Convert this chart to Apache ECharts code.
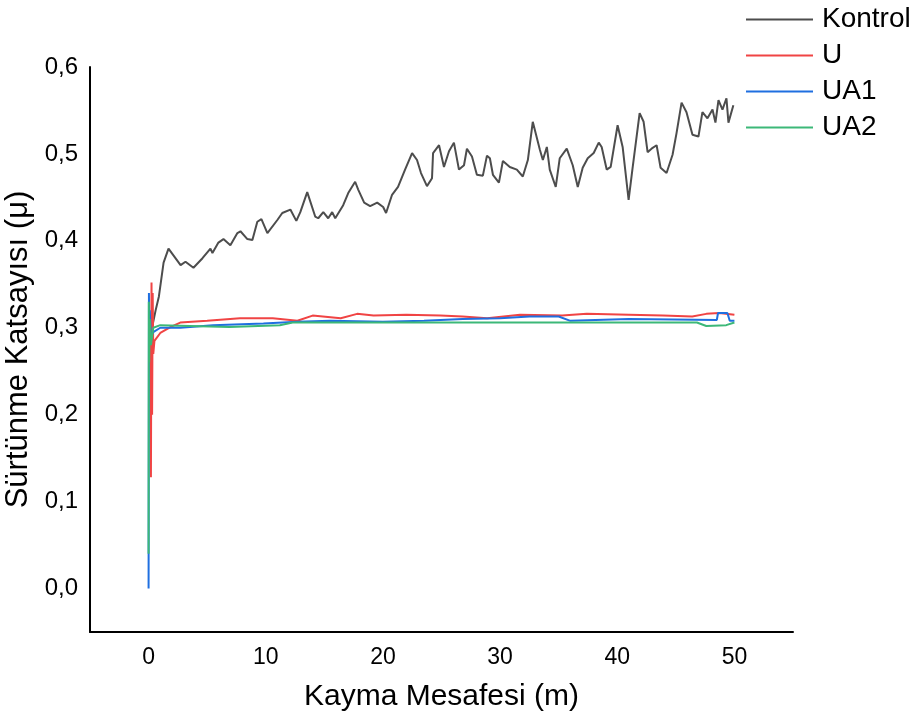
<!DOCTYPE html>
<html>
<head>
<meta charset="utf-8">
<script src="https://cdn.jsdelivr.net/npm/echarts@6/dist/echarts.min.js"></script>
<style>html,body{margin:0;padding:0;background:#fff}#c{width:917px;height:720px}</style>
</head>
<body>
<div id="c"></div>
<script>
const seriesNames = ['Kontrol', 'U', 'UA1', 'UA2'];
const xTickLabels = ['0', '10', '20', '30', '40', '50'];
const yTickLabels = ['0,0', '0,1', '0,2', '0,3', '0,4', '0,5', '0,6'];

const kontrolX = [0.31, 0.6, 0.88, 1.28, 1.70, 2.73, 3.15, 3.83, 4.60, 5.28, 5.45, 5.96, 6.39, 6.98, 7.58, 7.84, 8.43, 8.86, 9.28, 9.63, 10.14, 10.99, 11.41, 12.10, 12.61, 12.95, 13.54, 14.22, 14.48, 14.91, 15.33, 15.67, 15.93, 16.61, 17.04, 17.63, 17.89, 18.40, 18.91, 19.51, 20.02, 20.27, 20.78, 21.29, 21.89, 22.49, 22.91, 23.25, 23.76, 24.19, 24.28, 24.79, 25.21, 25.64, 26.06, 26.49, 26.92, 27.17, 27.60, 28.02, 28.53, 28.88, 29.13, 29.39, 29.90, 30.24, 30.83, 31.43, 31.94, 32.37, 32.79, 33.39, 33.65, 33.99, 34.24, 34.75, 35.09, 35.69, 36.20, 36.63, 37.05, 37.48, 37.99, 38.42, 38.67, 39.10, 39.44, 40.03, 40.46, 40.97, 41.31, 41.91, 42.25, 42.59, 43.02, 43.36, 43.70, 44.21, 44.72, 45.06, 45.49, 45.91, 46.42, 46.93, 47.27, 47.70, 48.13, 48.38, 48.64, 48.98, 49.32, 49.49, 49.91];
const kontrolY = [0.301, 0.320, 0.336, 0.375, 0.391, 0.372, 0.376, 0.369, 0.380, 0.391, 0.386, 0.398, 0.402, 0.395, 0.409, 0.411, 0.402, 0.401, 0.422, 0.425, 0.409, 0.424, 0.432, 0.436, 0.423, 0.433, 0.456, 0.428, 0.426, 0.433, 0.426, 0.433, 0.426, 0.441, 0.455, 0.468, 0.459, 0.444, 0.440, 0.444, 0.439, 0.432, 0.453, 0.462, 0.482, 0.501, 0.493, 0.478, 0.463, 0.472, 0.501, 0.510, 0.485, 0.503, 0.513, 0.482, 0.487, 0.506, 0.497, 0.476, 0.475, 0.498, 0.495, 0.476, 0.467, 0.492, 0.485, 0.482, 0.474, 0.493, 0.537, 0.505, 0.493, 0.508, 0.482, 0.462, 0.495, 0.506, 0.487, 0.462, 0.484, 0.495, 0.501, 0.513, 0.508, 0.482, 0.485, 0.533, 0.508, 0.447, 0.484, 0.547, 0.537, 0.502, 0.507, 0.510, 0.484, 0.478, 0.499, 0.524, 0.559, 0.548, 0.522, 0.520, 0.548, 0.541, 0.551, 0.536, 0.562, 0.551, 0.564, 0.536, 0.556];

const uX = [0.15, 0.20, 0.25, 0.30, 0.35, 0.40, 0.50, 1.0, 1.9, 2.7, 5.0, 7.8, 10.6, 12.7, 14.0, 16.4, 17.8, 19.2, 22.0, 24.9, 26.8, 28.9, 31.7, 35.3, 37.4, 41.0, 43.9, 46.4, 47.6, 48.7, 50.0];
const uY = [0.300, 0.128, 0.352, 0.200, 0.340, 0.270, 0.285, 0.294, 0.301, 0.306, 0.308, 0.311, 0.311, 0.308, 0.314, 0.311, 0.316, 0.314, 0.315, 0.314, 0.313, 0.311, 0.315, 0.314, 0.316, 0.315, 0.314, 0.313, 0.316, 0.317, 0.315];

const ua1X = [0.0, 0.03, 0.06, 0.10, 0.20, 0.40, 1.0, 2.7, 5.5, 9.8, 12.7, 15.5, 20.0, 23.5, 26.8, 30.0, 32.5, 35.0, 36.0, 41.0, 48.5, 48.6, 49.4, 49.6, 50.0];
const ua1Y = [0.000, 0.340, 0.300, 0.320, 0.290, 0.295, 0.300, 0.300, 0.303, 0.305, 0.307, 0.308, 0.307, 0.308, 0.310, 0.311, 0.313, 0.313, 0.308, 0.310, 0.309, 0.317, 0.317, 0.308, 0.308];

const ua2X = [0.0, 0.02, 0.05, 0.10, 0.20, 0.40, 1.0, 6.9, 11.2, 12.3, 24.9, 30.0, 36.0, 46.8, 47.6, 49.3, 50.0];
const ua2Y = [0.040, 0.330, 0.260, 0.310, 0.280, 0.300, 0.303, 0.301, 0.303, 0.306, 0.306, 0.306, 0.306, 0.306, 0.302, 0.303, 0.306];

const colors = ['#4d4d4d', '#f04444', '#1f6fe0', '#3cb878'];

function pairs(xs, ys) { return xs.map((x, i) => [x, ys[i]]); }
const dataSets = [pairs(kontrolX, kontrolY), pairs(uX, uY), pairs(ua1X, ua1Y), pairs(ua2X, ua2Y)];

const FONT = '"Liberation Sans", Arial, sans-serif';
const chart = echarts.init(document.getElementById('c'), null, {renderer: 'canvas'});

function near(v, step) { return Math.abs(v / step - Math.round(v / step)) < 1e-6; }

chart.setOption({
  animation: false,
  backgroundColor: '#fff',
  color: colors,
  grid: {left: 90, right: 124, top: 67, bottom: 88, containLabel: false, outerBoundsMode: 'none'},
  legend: {
    orient: 'vertical', left: 741, top: 0,
    itemWidth: 67, itemHeight: 14, itemGap: 7,
    icon: 'path://M0,6 L67,6 L67,8 L0,8 Z',
    textStyle: {fontFamily: FONT, fontSize: 28, color: '#000', lineHeight: 29, padding: [0, 0, 0, 4]},
    data: seriesNames
  },
  xAxis: {
    type: 'value', min: -5, max: 55, interval: 5,
    name: 'Kayma Mesafesi (m)', nameLocation: 'middle', nameGap: 50,
    nameTextStyle: {fontFamily: FONT, fontSize: 30, color: '#000'},
    axisLine: {show: true, onZero: false, lineStyle: {color: '#000', width: 2}},
    axisTick: {show: false},
    splitLine: {show: false},
    axisLabel: {
      fontFamily: FONT, fontSize: 23, color: '#000', margin: 14,
      formatter: v => { if (!near(v, 10)) return ''; const i = Math.round(v / 10); return (i >= 0 && i < xTickLabels.length) ? xTickLabels[i] : ''; }
    }
  },
  yAxis: {
    type: 'value', min: -0.05, max: 0.6, interval: 0.05,
    name: 'Sürtünme Katsayısı (μ)', nameLocation: 'middle', nameGap: 52,
    nameTextStyle: {fontFamily: FONT, fontSize: 31, color: '#000'},
    axisLine: {show: true, onZero: false, lineStyle: {color: '#000', width: 2}},
    axisTick: {show: false},
    splitLine: {show: false},
    axisLabel: {
      fontFamily: FONT, fontSize: 24, color: '#000', margin: 12,
      formatter: v => { if (!near(v, 0.1)) return ''; const i = Math.round(v / 0.1); return (i >= 0 && i < yTickLabels.length) ? yTickLabels[i] : ''; }
    }
  },
  series: seriesNames.map((n, k) => ({
    name: n, type: 'line', data: dataSets[k], symbol: 'none', showSymbol: false,
    lineStyle: {width: 2, color: colors[k]}, itemStyle: {color: colors[k]}, z: 2 + k
  }))
});
</script>
</body>
</html>
